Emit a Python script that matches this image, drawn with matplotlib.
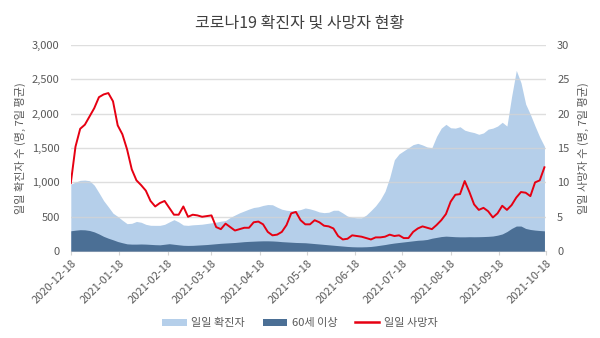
import numpy as np
import pandas as pd
import matplotlib
matplotlib.use("Agg")
import matplotlib.pyplot as plt
import matplotlib.dates as mdates
from matplotlib.patches import Patch
from matplotlib.lines import Line2D
from matplotlib.ticker import FuncFormatter, MultipleLocator

plt.rcParams['font.family'] = ['Noto Sans CJK KR', 'DejaVu Sans']

# ====== Data (7-day averages, sampled every 3 days from 2020-12-18) ======
START_DATE = "2020-12-18"
END_DATE = "2021-10-18"
SAMPLE_STEP = "3D"

cases_total = [
    975, 1005, 1030, 1034, 1024, 960, 850, 735, 645, 552,
    505, 450, 400, 405, 432, 420, 390, 376, 375, 375,
    390, 425, 458, 425, 380, 375, 383, 387, 392, 402,
    412, 422, 436, 445, 490, 525, 558, 585, 612, 635,
    645, 665, 678, 675, 640, 610, 595, 588, 592, 605,
    628, 615, 595, 570, 560, 566, 595, 595, 555, 510,
    492, 485, 485, 525, 590, 660, 750, 870, 1070, 1330,
    1415, 1460, 1505, 1550, 1568, 1545, 1515, 1505, 1670, 1790,
    1845, 1795, 1790, 1810, 1760, 1740, 1725, 1700, 1720, 1775,
    1790, 1820, 1875, 1820, 2250, 2630, 2450, 2140, 1990, 1820,
    1660, 1525,
]

cases_60plus = [
    296, 305, 312, 310, 300, 280, 250, 215, 188, 165,
    140, 122, 106, 102, 102, 104, 102, 98, 94, 92,
    100, 108, 100, 92, 85, 83, 84, 88, 92, 96,
    102, 108, 114, 118, 122, 126, 132, 138, 142, 145,
    148, 150, 150, 148, 144, 138, 134, 130, 126, 124,
    122, 116, 110, 104, 98, 92, 86, 80, 74, 68,
    64, 62, 62, 64, 68, 76, 86, 96, 108, 118,
    126, 134, 142, 150, 158, 162, 170, 188, 200, 212,
    218, 214, 210, 208, 208, 210, 209, 210, 212, 215,
    220, 232, 250, 285, 330, 365, 365, 330, 315, 306,
    300, 295,
]

deaths = [
    9.9, 15.2, 17.8, 18.4, 19.6, 20.8, 22.4, 22.8, 23.0, 21.8,
    18.3, 17.0, 14.8, 11.9, 10.3, 9.6, 8.8, 7.3, 6.5, 7.0,
    7.3, 6.3, 5.3, 5.3, 6.5, 5.0, 5.3, 5.2, 5.0, 5.1,
    5.2, 3.5, 3.2, 4.0, 3.5, 3.0, 3.2, 3.4, 3.4, 4.2,
    4.3, 3.9, 2.8, 2.3, 2.4, 2.8, 3.8, 5.5, 5.7, 4.5,
    3.9, 3.9, 4.5, 4.2, 3.7, 3.6, 3.3, 2.2, 1.7, 1.8,
    2.3, 2.2, 2.1, 1.9, 1.7, 2.0, 2.0, 2.1, 2.4, 2.2,
    2.3, 1.9, 1.9, 2.8, 3.3, 3.6, 3.4, 3.2, 3.8, 4.5,
    5.4, 7.2, 8.2, 8.3, 10.2, 8.6, 6.8, 6.0, 6.3, 5.8,
    4.9, 5.5, 6.6, 6.0, 6.7, 7.8, 8.6, 8.5, 8.0, 10.0,
    10.3, 12.2,
]

tick_dates = [
    "2020-12-18", "2021-01-18", "2021-02-18", "2021-03-18", "2021-04-18",
    "2021-05-18", "2021-06-18", "2021-07-18", "2021-08-18", "2021-09-18",
    "2021-10-18",
]

TITLE = "코로나19 확진자 및 사망자 현황"
LEFT_LABEL = "일일 확진자 수 (명, 7일 평균)"
RIGHT_LABEL = "일일 사망자 수 (명, 7일 평균)"
LEGEND_LABELS = ["일일 확진자", "60세 이상", "일일 사망자"]

# ====== Styles ======
LIGHT_BLUE = "#b5cfea"
DARK_BLUE = "#4b6f95"
RED = "#e60012"
GRID = "#d4d4d4"
TEXT = "#595959"


def run():
    dates = pd.date_range(START_DATE, periods=len(cases_total), freq=SAMPLE_STEP)

    fig = plt.figure(figsize=(6, 3.38), dpi=100)
    ax = fig.add_axes([0.118, 0.257, 0.792, 0.61])
    ax2 = ax.twinx()

    ax.fill_between(dates, 0, cases_total, color=LIGHT_BLUE, linewidth=0, zorder=1)
    ax.fill_between(dates, 0, cases_60plus, color=DARK_BLUE, linewidth=0, zorder=3)
    ax2.plot(dates, deaths, color=RED, linewidth=1.4, zorder=4)

    ax.set_xlim(pd.Timestamp(START_DATE), pd.Timestamp(END_DATE))
    ax.set_ylim(0, 3000)
    ax2.set_ylim(0, 30)
    ax.yaxis.set_major_locator(MultipleLocator(500))
    ax2.yaxis.set_major_locator(MultipleLocator(5))
    ax.yaxis.set_major_formatter(FuncFormatter(lambda v, _: f"{int(v):,}"))

    # gridlines sit over the light area, under the dark one
    ax.set_axisbelow(False)
    ax.grid(axis="y", color=GRID, linewidth=1.0, alpha=0.75, zorder=2)
    ax.xaxis.grid(False)

    for a in (ax, ax2):
        for s in a.spines.values():
            s.set_visible(False)
        a.tick_params(axis="y", length=0, labelsize=8, labelcolor=TEXT, pad=8)
    ax.spines["bottom"].set_visible(True)
    ax.spines["bottom"].set_color(GRID)

    ax.set_xticks([pd.Timestamp(t) for t in tick_dates])
    ax.xaxis.set_major_formatter(mdates.DateFormatter("%Y-%m-%d"))
    ax.tick_params(axis="x", length=3, color=GRID, labelsize=8, labelcolor=TEXT, pad=2)
    for lbl in ax.get_xticklabels():
        lbl.set_rotation(45)
        lbl.set_ha("right")
        lbl.set_rotation_mode("anchor")

    ax.set_ylabel(LEFT_LABEL, fontsize=8, color=TEXT, labelpad=4)
    ax2.set_ylabel(RIGHT_LABEL, fontsize=8, color=TEXT, rotation=90, labelpad=6)

    fig.suptitle(TITLE, x=0.5, y=0.955, fontsize=11.5, color="#404040",
                 fontweight="medium")

    handles = [
        Patch(facecolor=LIGHT_BLUE, edgecolor="none"),
        Patch(facecolor=DARK_BLUE, edgecolor="none"),
        Line2D([0], [0], color=RED, linewidth=1.8),
    ]
    leg = fig.legend(handles, LEGEND_LABELS, loc="center", bbox_to_anchor=(0.5, 0.044),
                     ncol=3, frameon=False, fontsize=8, handlelength=2.2,
                     handleheight=0.6, columnspacing=1.6, handletextpad=0.4)
    for t in leg.get_texts():
        t.set_color(TEXT)

    fig.savefig("out.png", dpi=100)
    plt.close(fig)


if __name__ == "__main__":
    run()
